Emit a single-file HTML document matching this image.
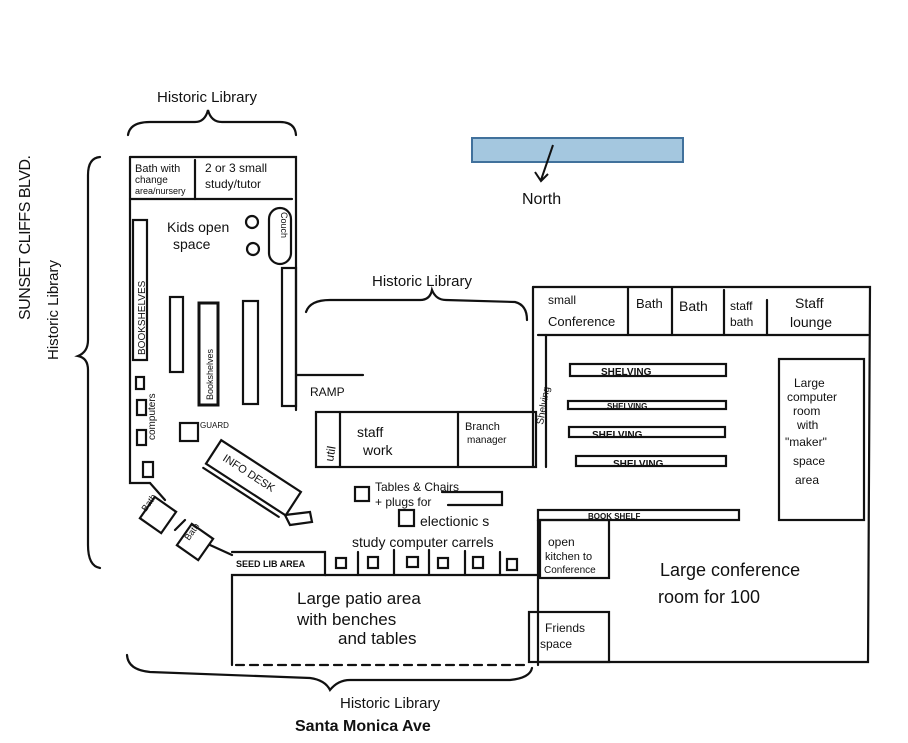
<!DOCTYPE html>
<html><head><meta charset="utf-8"><style>
html,body{margin:0;padding:0;background:#fff;}
svg{display:block;font-family:"Liberation Sans",sans-serif;}
text{fill:#111;}
</style></head><body>
<svg width="908" height="743" viewBox="0 0 908 743" xmlns="http://www.w3.org/2000/svg">
<g fill="none" stroke="#111" stroke-width="2.2" stroke-linecap="round">
<!-- top brace -->
<path d="M128 135 Q130 122 150 122 L195 122 Q205 122 208 110 Q211 122 222 122 L280 122 Q295 122 296 135"/>
<!-- left brace -->
<path d="M100 568 Q88 566 88 545 L88 370 Q88 358 78 356 Q88 352 88 340 L88 175 Q88 158 100 157"/>
<!-- middle brace -->
<path d="M306 312 Q310 300 330 300 L420 300 Q430 300 432 290 Q436 300 446 300 L515 302 Q527 305 527 320"/>
<!-- bottom brace -->
<path d="M127 655 Q128 670 150 672 L310 678 Q325 680 330 690 Q338 680 350 680 L510 680 Q530 678 532 668"/>

<!-- left building -->
<path d="M130 157 L296 157 L296 410"/>
<path d="M130 157 L130 483 L150 483"/>
<path d="M130 199 L292 199"/>
<path d="M195 160 L195 199"/>
<rect x="133" y="220" width="14" height="140"/>
<rect x="170" y="297" width="13" height="75"/>
<rect x="199" y="303" width="19" height="102" stroke-width="3"/>
<rect x="243" y="301" width="15" height="103"/>
<rect x="282" y="268" width="14" height="138"/>
<rect x="269" y="208" width="22" height="56" rx="11"/>
<circle cx="252" cy="222" r="6"/>
<circle cx="253" cy="249" r="6"/>
<rect x="136" y="377" width="8" height="12"/>
<rect x="137" y="400" width="9" height="15"/>
<rect x="137" y="430" width="9" height="15"/>
<rect x="143" y="462" width="10" height="15"/>
<rect x="180" y="423" width="18" height="18"/>
<g transform="rotate(33 255 480)"><rect x="205" y="465" width="95" height="28"/><line x1="205" y1="498" x2="295" y2="498"/></g>
<path d="M285 515 L310 512 L312 522 L290 525 Z"/>
<g transform="rotate(35 158 515)"><rect x="145" y="502" width="26" height="26"/></g>
<g transform="rotate(35 195 542)"><rect x="182" y="529" width="26" height="26"/></g>
<path d="M150 483 L165 500 M175 530 L185 520 M210 545 L232 555"/>
<!-- seed / carrels -->
<path d="M232 552 L325 552 L325 575 L232 575 L232 665"/>
<path d="M325 575 L540 575"/>
<rect x="336" y="558" width="10" height="10"/><rect x="368" y="557" width="10" height="11"/>
<rect x="407" y="557" width="11" height="10"/><rect x="438" y="558" width="10" height="10"/>
<rect x="473" y="557" width="10" height="11"/><rect x="507" y="559" width="10" height="11"/>
<path d="M358 552 L358 575 M394 550 L394 575 M429 550 L429 575 M465 551 L465 575 M500 552 L500 575"/>
<path d="M236 665 L530 665" stroke-dasharray="8 6"/>
<!-- ramp & staff -->
<path d="M296 375 L363 375"/>
<rect x="316" y="412" width="220" height="55"/>
<path d="M340 412 L340 467 M458 412 L458 467"/>
<rect x="355" y="487" width="14" height="14"/>
<rect x="399" y="510" width="15" height="16"/>
<path d="M442 492 L502 492 L502 505 L448 505"/>
<!-- right building -->
<path d="M533 287 L870 287 L868 662 L540 662"/>
<path d="M533 287 L533 467 M546 335 L546 467"/>
<path d="M538 335 L868 335"/>
<path d="M628 288 L628 335 M672 288 L672 335 M724 290 L724 335 M767 300 L767 335"/>
<rect x="570" y="364" width="156" height="12"/>
<rect x="568" y="401" width="158" height="8"/>
<rect x="569" y="427" width="156" height="10"/>
<rect x="576" y="456" width="150" height="10"/>
<rect x="779" y="359" width="85" height="161"/>
<rect x="538" y="510" width="201" height="10"/>
<rect x="540" y="520" width="69" height="58"/>
<path d="M538 520 L538 665"/>
<rect x="529" y="612" width="80" height="50"/>
</g>
<!-- blue box -->
<rect x="472" y="138" width="211" height="24" fill="#a4c7df" stroke="#41719c" stroke-width="2"/>
<path d="M553 145 L541 180 M535 172 L541 181 L548 174" fill="none" stroke="#111" stroke-width="2"/>
<text x="522" y="204" font-size="16">North</text>

<g font-size="14">
<text x="157" y="102" font-size="15">Historic Library</text>
<text x="372" y="286" font-size="15">Historic Library</text>
<text x="340" y="708" font-size="15">Historic Library</text>
<text x="295" y="731" font-size="16" font-weight="bold">Santa Monica Ave</text>
<text transform="translate(30 320) rotate(-90)" font-size="16" textLength="165">SUNSET CLIFFS BLVD.</text>
<text transform="translate(58 360) rotate(-90)" font-size="15">Historic Library</text>
<text x="135" y="172" font-size="11">Bath with</text>
<text x="135" y="183" font-size="10">change</text>
<text x="135" y="194" font-size="9">area/nursery</text>
<text x="205" y="172" font-size="12">2 or 3 small</text>
<text x="205" y="188" font-size="12">study/tutor</text>
<text x="167" y="232" font-size="14">Kids open</text>
<text x="173" y="249" font-size="14">space</text>
<text transform="translate(281 212) rotate(90)" font-size="9">Couch</text>
<text transform="translate(145 355) rotate(-90)" font-size="10">BOOKSHELVES</text>
<text transform="translate(213 400) rotate(-90)" font-size="9">Bookshelves</text>
<text transform="translate(155 440) rotate(-90)" font-size="10">computers</text>
<text x="200" y="428" font-size="8">GUARD</text>
<text transform="translate(222 460) rotate(33)" font-size="11">INFO DESK</text>
<text transform="translate(146 512) rotate(-55)" font-size="9">Bath</text>
<text transform="translate(189 541) rotate(-55)" font-size="9">Bath</text>
<text x="236" y="567" font-size="9" font-weight="bold">SEED LIB AREA</text>
<text x="310" y="396" font-size="12">RAMP</text>
<text transform="translate(333 462) rotate(-80)" font-size="12">util</text>
<text x="357" y="437" font-size="14">staff</text>
<text x="363" y="455" font-size="14">work</text>
<text x="465" y="430" font-size="11">Branch</text>
<text x="467" y="443" font-size="10">manager</text>
<text transform="translate(543 425) rotate(-80)" font-size="10">Shelving</text>
<text x="375" y="491" font-size="12">Tables &amp; Chairs</text>
<text x="375" y="506" font-size="12">+ plugs for</text>
<text x="420" y="526" font-size="14">electionic s</text>
<text x="352" y="547" font-size="14">study computer carrels</text>
<text x="297" y="604" font-size="17">Large patio area</text>
<text x="297" y="625" font-size="17">with benches</text>
<text x="338" y="644" font-size="17">and tables</text>
<text x="548" y="304" font-size="12">small</text>
<text x="548" y="326" font-size="13">Conference</text>
<text x="636" y="308" font-size="13">Bath</text>
<text x="679" y="311" font-size="14">Bath</text>
<text x="730" y="310" font-size="12">staff</text>
<text x="730" y="326" font-size="12">bath</text>
<text x="795" y="308" font-size="14">Staff</text>
<text x="790" y="327" font-size="14">lounge</text>
<text x="601" y="375" font-size="10" font-weight="bold">SHELVING</text>
<text x="607" y="409" font-size="8" font-weight="bold">SHELVING</text>
<text x="592" y="438" font-size="10" font-weight="bold">SHELVING</text>
<text x="613" y="467" font-size="10" font-weight="bold">SHELVING</text>
<text x="588" y="519" font-size="8" font-weight="bold">BOOK SHELF</text>
<g font-size="12"><text x="794" y="387">Large</text><text x="787" y="401">computer</text><text x="793" y="415">room</text><text x="797" y="429">with</text><text x="785" y="446">"maker"</text><text x="793" y="465">space</text><text x="795" y="484">area</text></g>
<text x="548" y="546" font-size="12">open</text>
<text x="545" y="560" font-size="11">kitchen to</text>
<text x="544" y="573" font-size="10">Conference</text>
<text x="660" y="576" font-size="18">Large conference</text>
<text x="658" y="603" font-size="18">room for 100</text>
<text x="545" y="632" font-size="12">Friends</text>
<text x="540" y="648" font-size="12">space</text>
</g>
</svg>
</body></html>
